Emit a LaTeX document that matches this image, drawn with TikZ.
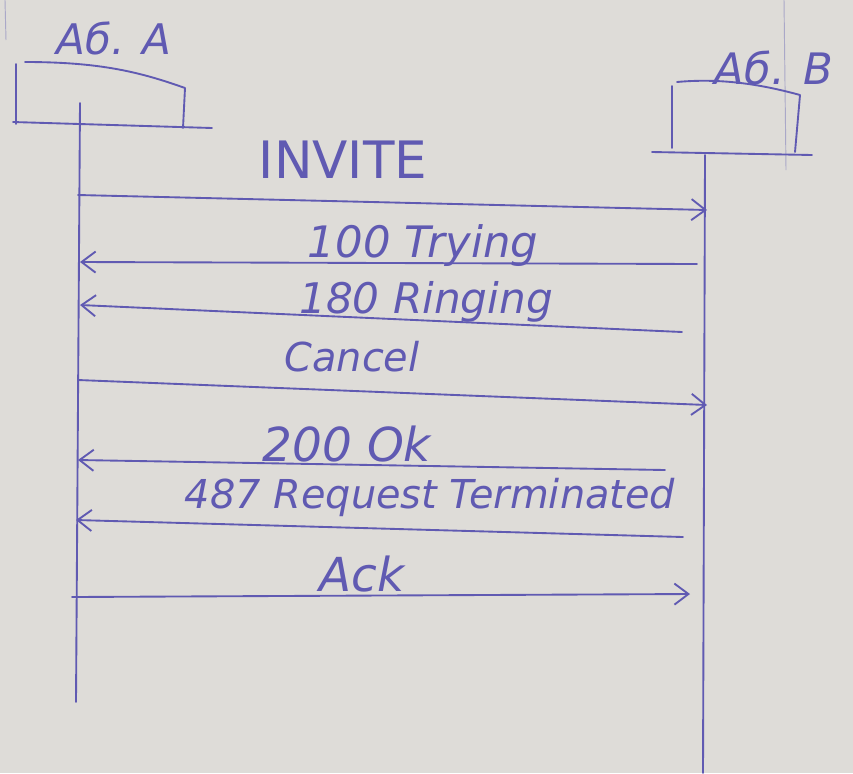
\documentclass[tikz,border=0pt]{standalone}
\usepackage{fontspec}
\setmainfont{DejaVu Sans}
\usetikzlibrary{arrows.meta}
\definecolor{paper}{RGB}{222,220,216}
\definecolor{ink}{RGB}{96,90,178}
\definecolor{faint}{RGB}{170,168,200}
\tikzset{
  pen/.style={draw=ink, line width=1.6pt, line cap=round, line join=round},
  msg/.style={pen, -{Straight Barb[length=12pt,width=18pt]}},
  lbl/.style={text=ink, inner sep=0pt, font=\fontsize{30}{34}\selectfont},
}
\begin{document}
\begin{tikzpicture}[x=0.03cm,y=-0.03cm]
\fill[paper] (0,0) rectangle (853,773);
\useasboundingbox (0,0) rectangle (853,773);
% faint paper lines
\draw[faint, line width=0.8pt] (5,0) -- (6,40);
\draw[faint, line width=0.8pt] (784,0) -- (786,170);
% participant A
\draw[pen] (16,124) -- (16,64) (25,62) .. controls (100,62) and (140,72) .. (185,88) -- (183,128);
\draw[pen] (13,122) -- (212,128);
\node[lbl, font=\fontsize{36}{40}\selectfont\itshape] (labA) at (114,38) {Аб. А};
% participant B
\draw[pen] (672,148) -- (672,86) (677,82) .. controls (720,78) and (760,84) .. (800,95) -- (795,152);
\draw[pen] (652,152) -- (812,155);
\node[lbl, font=\fontsize{37}{40}\selectfont\itshape] (labB) at (774,68) {Аб. B};
% lifelines
\coordinate (Atop) at (80,103);
\coordinate (Abot) at (76,702);
\coordinate (Btop) at (705,155);
\coordinate (Bbot) at (703,773);
\draw[pen] (Atop) -- (Abot);
\draw[pen] (Btop) -- (Bbot);
% message endpoints
\coordinate (a1) at (78,195);  \coordinate (b1) at (707,210);
\coordinate (b2) at (697,264); \coordinate (a2) at (80,262);
\coordinate (b3) at (682,332); \coordinate (a3) at (80,305);
\coordinate (a4) at (78,380);  \coordinate (b4) at (707,405);
\coordinate (b5) at (665,470); \coordinate (a5) at (78,460);
\coordinate (b6) at (683,537); \coordinate (a6) at (76,520);
\coordinate (a7) at (72,597);  \coordinate (b7) at (690,594);
% messages
\draw[msg] (a1) -- (b1);
\node[lbl, font=\fontsize{44}{48}\selectfont] (m1) at (343,160) {INVITE};
\draw[msg] (b2) -- (a2);
\node[lbl, font=\fontsize{37}{40}\selectfont\itshape] (m2) at (423,246) {100 Trying};
\draw[msg] (b3) -- (a3);
\node[lbl, font=\fontsize{36}{40}\selectfont\itshape] (m3) at (426,302) {180 Ringing};
\draw[msg] (a4) -- (b4);
\node[lbl, font=\fontsize{34}{38}\selectfont\itshape] (m4) at (352,357) {Cancel};
\draw[msg] (b5) -- (a5);
\node[lbl, font=\fontsize{40}{44}\selectfont\itshape] (m5) at (347,444) {200 Ok};
\draw[msg] (b6) -- (a6);
\node[lbl, font=\fontsize{34}{38}\selectfont\itshape] (m6) at (430,497) {487 Request Terminated};
\draw[msg] (a7) -- (b7);
\node[lbl, font=\fontsize{40}{44}\selectfont\itshape] (m7) at (362,574) {Ack};
\end{tikzpicture}
\end{document}
